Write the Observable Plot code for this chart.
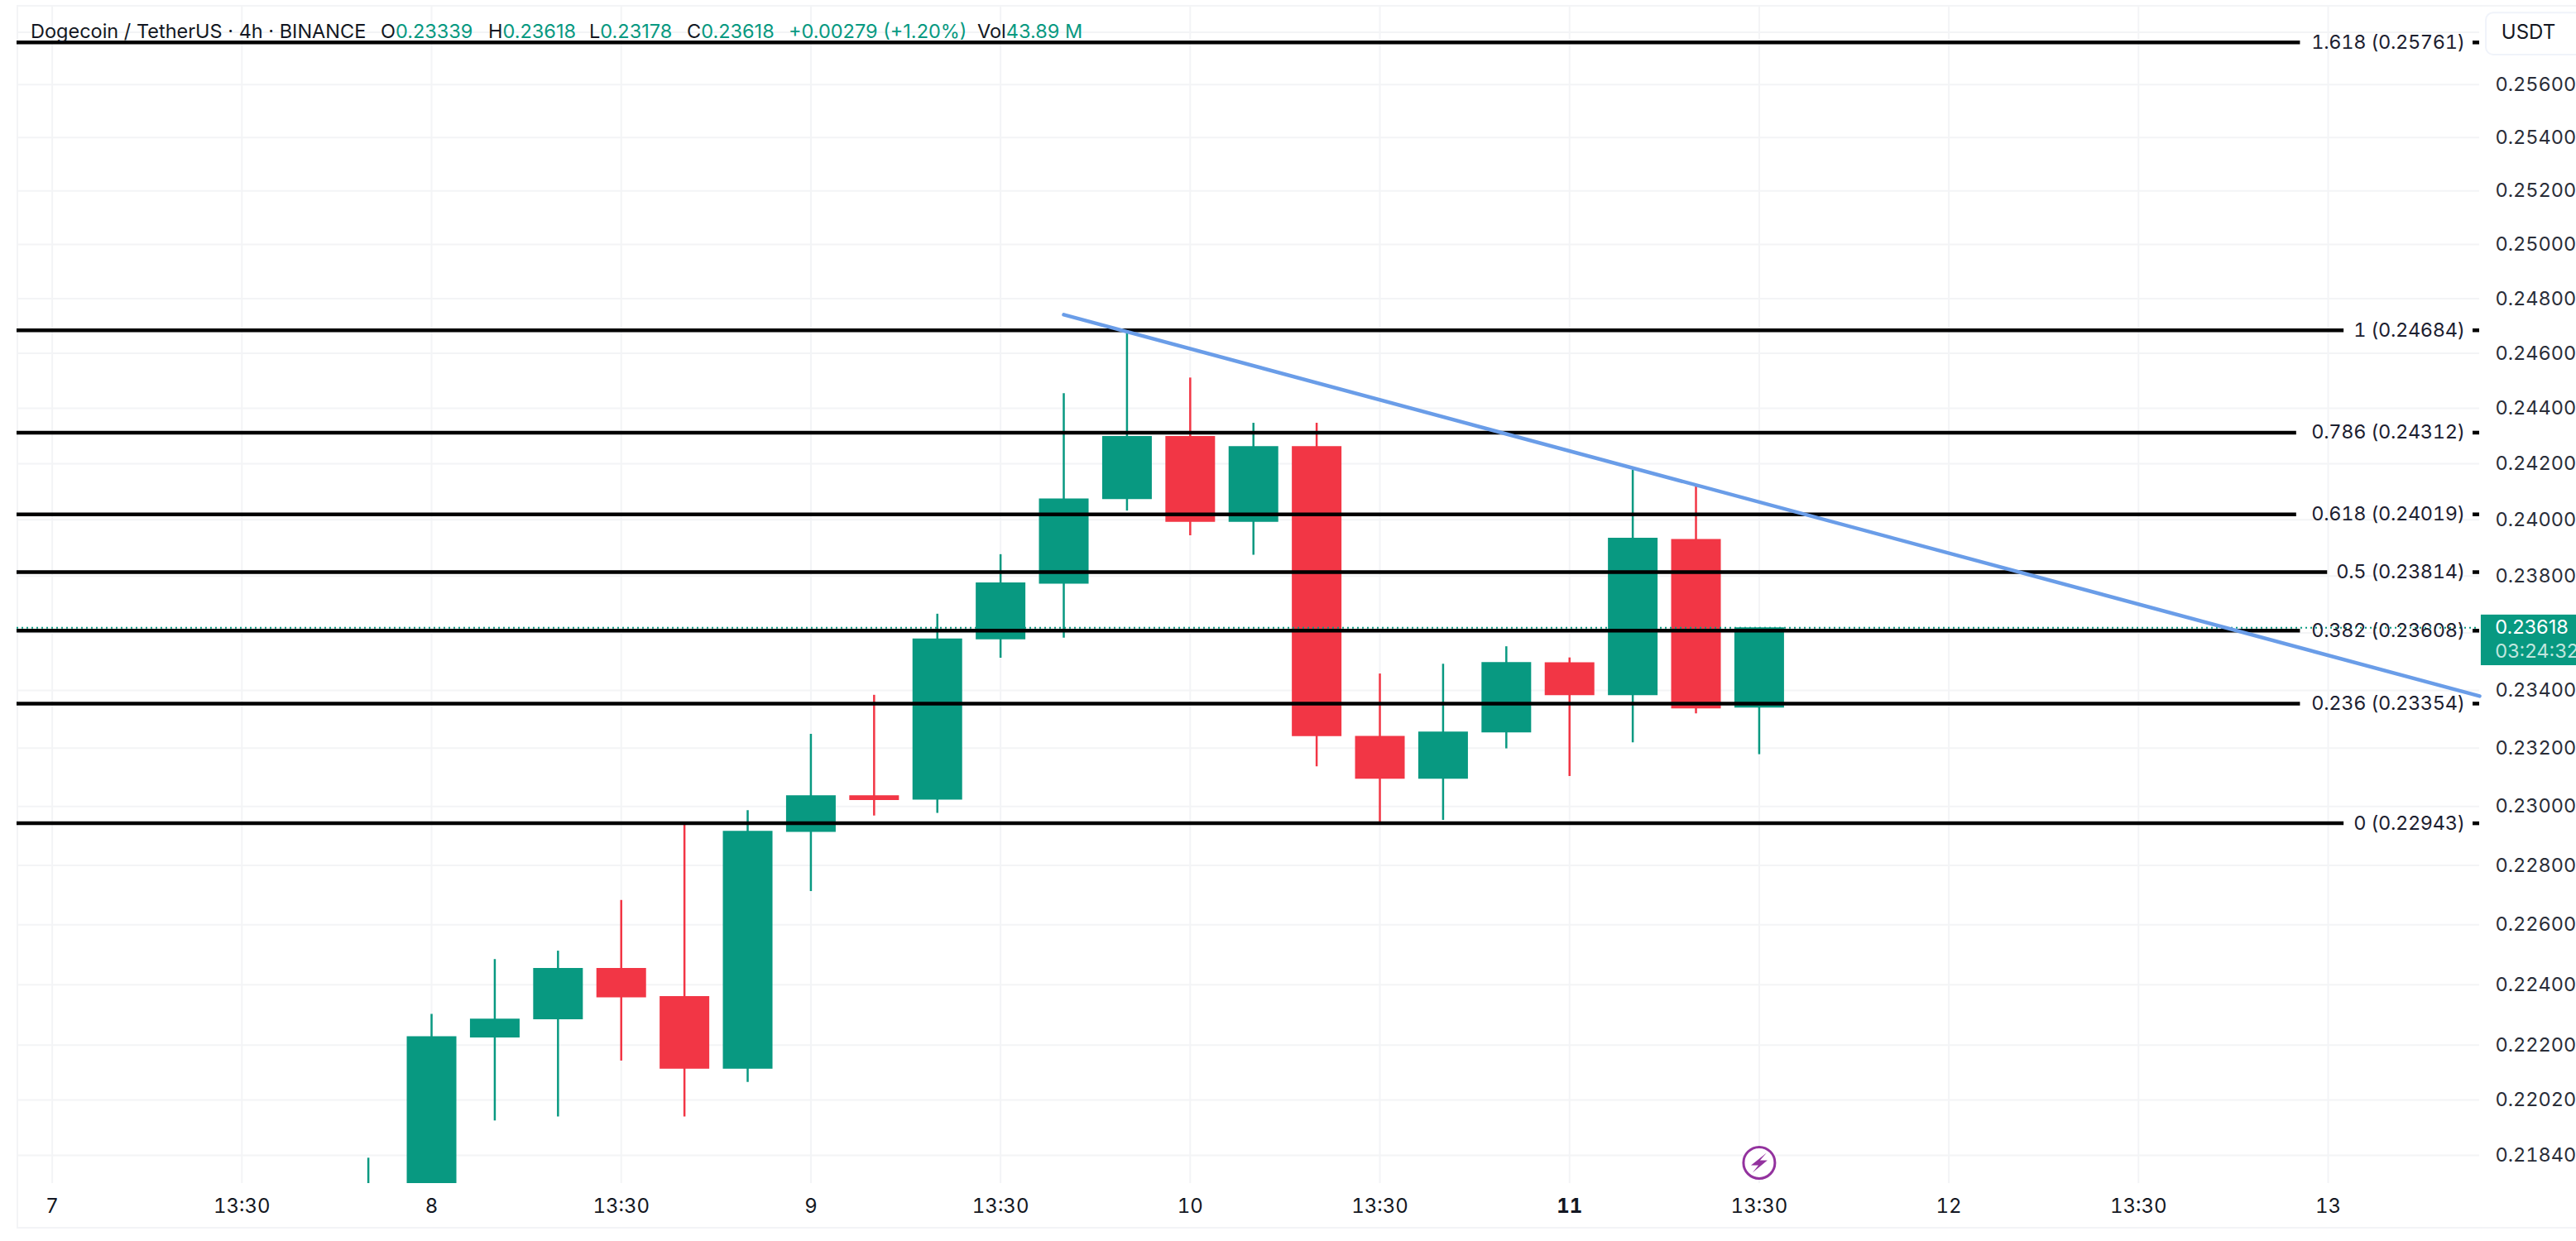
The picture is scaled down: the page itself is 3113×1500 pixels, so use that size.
<!DOCTYPE html>
<html>
<head>
<meta charset="utf-8">
<script src="https://cdn.jsdelivr.net/npm/d3@7"></script>
<script src="https://cdn.jsdelivr.net/npm/@observablehq/plot@0.6"></script>
<style>
html,body{margin:0;padding:0;background:#fff;overflow:hidden}
#wrap{position:relative;width:3113px;height:1500px;overflow:hidden}
#panel{position:absolute;left:20px;top:6px;width:3100px;height:1479px;border:2px solid #f3f4f6;box-sizing:border-box}
#head{position:absolute;left:37px;top:23px;font:23.5px/30px Inter,sans-serif;color:#131722;white-space:nowrap}
#head span{position:absolute;top:0}
#head i{font-style:normal;color:#089981}
#chart{position:absolute;left:0;top:0}
svg{display:block}
</style>
</head>
<body>
<div id="wrap"><div id="panel"></div><div id="chart"></div><div id="head"></div></div>
<script>
const GREEN = "#089981", RED = "#f23645", GRID = "#f3f4f6", INK = "#131722";

// Candles (bar index 0 = day 8)
const bars  = [-1,0,1,2,3,4,5,6,7,8,9,10,11,12,13,14,15,16,17,18,19,20,21];
const opens = [.2165,.2172,.22224,.22284,.22454,.22361,.22121,.22912,.23037,.23022,.23576,.23772,.24072,.24298,.23991,.24262,.23241,.23094,.23253,.23496,.23382,.2393,.23339];
const closes= [.2172,.22228,.22286,.22454,.22357,.22121,.22916,.23037,.23021,.23579,.23776,.24074,.24298,.23991,.24262,.2324,.23094,.23256,.23497,.23382,.23934,.23336,.23618];
const highs = [.21831,.22302,.22484,.22512,.22682,.22943,.22986,.23248,.23383,.23666,.23876,.24453,.24684,.2451,.24346,.24346,.23457,.23491,.23552,.23513,.24177,.24121,.23618];
const lows  = [.2160,.2160,.21952,.21965,.22148,.21965,.22078,.22712,.22968,.22977,.23512,.23582,.24031,.23943,.23874,.23136,.22943,.22953,.23198,.23103,.23219,.23319,.23178];
const candles = bars.map((b,i)=>({b,open:opens[i],close:closes[i],high:highs[i],low:lows[i],color:closes[i]>=opens[i]?GREEN:RED}));

// Fibonacci retracement
const fibRatios = ["1.618","1","0.786","0.618","0.5","0.382","0.236","0"];
const fibPrices = [.25761,.24684,.24312,.24019,.23814,.23608,.23354,.22943];
const fibEnds   = [29.56,30.25,29.5,29.5,29.99,29.56,29.56,30.25];
const fibs = fibRatios.map((r,i)=>({label:`${r} (${fibPrices[i].toFixed(5)})`,price:fibPrices[i],end:fibEnds[i]}));

// Axes
const priceTicks = [.256,.254,.252,.25,.248,.246,.244,.242,.24,.238,.234,.232,.23,.228,.226,.224,.222,.2202,.2184];
const priceGrid  = [.258,.236,...priceTicks];
const timeTicks  = [-6,-3,0,3,6,9,12,15,18,21,24,27,30];
const timeLabels = ["7","13:30","8","13:30","9","13:30","10","13:30","11","13:30","12","13:30","13"];
const boldTick = 18;

// Trend line, price line and other annotations
const trendBars = [10,32.395], trendPrices = [.24741,.2338];
const lastPrice = .23618, timerPrice = .23535, timerText = "03:24:32";
const badgeX = [32.42,34], badgeY = [.23486,.23663];
const unitX = [32.5,35], unitY = [.25713,.25874], unitLabelX = 32.74, unitLabelY = .2580;
const flashBar = 21, flashPrice = .21816;
const xDomain = [-6.558,32.395], yDomain = [.21749,.25903];
const tickBar = 32.29, labelBar = 32.16, axisTextBar = 32.64;

const bolt = {draw(c,size){const s=Math.sqrt(size)/34;
  c.moveTo(9*s,-12*s);c.lineTo(-10*s,3*s);c.lineTo(-1*s,3*s);c.lineTo(-8*s,12*s);c.lineTo(10*s,-3*s);c.lineTo(1*s,-3*s);c.closePath();}};

const FS = 24, TS = 23.5;
const plot = Plot.plot({
  width:3113,height:1500,marginLeft:20,marginRight:117,marginTop:6,marginBottom:70,
  x:{type:"linear",domain:xDomain,axis:null},
  y:{type:"log",domain:yDomain,axis:null},
  style:{fontFamily:"Inter, sans-serif",fontSize:FS+"px",color:INK,background:"transparent",overflow:"hidden"},
  marks:[
    Plot.ruleY(priceGrid,{stroke:GRID,strokeWidth:2,x1:xDomain[0],x2:xDomain[1]}),
    Plot.ruleX(timeTicks,{stroke:GRID,strokeWidth:2}),
    Plot.axisY({anchor:"right",ticks:priceTicks,tickFormat:d3.format(".5f"),tickSize:0,tickPadding:19,fontSize:TS,label:null,color:"#2a2e39"}),
    Plot.axisX({anchor:"bottom",ticks:timeTicks.filter(t=>t!==boldTick),tickFormat:t=>timeLabels[timeTicks.indexOf(t)],tickSize:0,tickPadding:18,fontSize:FS,label:null}),
    Plot.axisX({anchor:"bottom",ticks:[boldTick],tickFormat:t=>timeLabels[timeTicks.indexOf(t)],tickSize:0,tickPadding:18,fontSize:FS,fontWeight:700,label:null}),
    Plot.ruleX(candles,{x:"b",y1:"low",y2:"high",stroke:"color",strokeWidth:2.5,clip:true}),
    Plot.ruleX(candles,{x:"b",y1:"open",y2:"close",stroke:"color",strokeWidth:60,clip:true}),
    Plot.ruleY([lastPrice],{x1:xDomain[0],x2:xDomain[1],stroke:GREEN,strokeWidth:2,strokeDasharray:"2 4"}),
    Plot.ruleY(fibs,{y:"price",x1:xDomain[0],x2:"end",stroke:"#000",strokeWidth:4.5}),
    Plot.ruleY(fibs,{y:"price",x1:tickBar,x2:xDomain[1],stroke:"#000",strokeWidth:4.5}),
    Plot.text(fibs,{x:labelBar,y:"price",text:"label",textAnchor:"end",fontSize:23.5,fill:"#1c2030",fontVariant:"tabular-nums",render:(i,s,v,d,c,n)=>{const g=n(i,s,v,d,c);g.style.letterSpacing="-0.3px";return g;}}),
    Plot.line(trendBars.map((b,i)=>({b,p:trendPrices[i]})),{x:"b",y:"p",stroke:"#6a9de8",strokeWidth:4.5,strokeLinecap:"round"}),
    Plot.dot([{b:flashBar,p:flashPrice}],{x:"b",y:"p",r:19,fill:"#fff",stroke:"#93329e",strokeWidth:3}),
    Plot.dot([{b:flashBar,p:flashPrice}],{x:"b",y:"p",r:19,symbol:bolt,fill:"#93329e",stroke:"none"}),
    Plot.rect([0],{x1:badgeX[0],x2:badgeX[1],y1:badgeY[0],y2:badgeY[1],fill:GREEN}),
    Plot.text([String(lastPrice.toFixed(5))],{x:axisTextBar,y:lastPrice,text:d=>d,textAnchor:"start",fill:"#fff",fontSize:TS}),
    Plot.text([timerText],{x:axisTextBar,y:timerPrice,text:d=>d,textAnchor:"start",fill:"#bfe6de",fontSize:TS}),
    Plot.rect([0],{x1:unitX[0],x2:unitX[1],y1:unitY[0],y2:unitY[1],fill:"#fff",stroke:"#f0f3fa",strokeWidth:2,rx:9}),
    Plot.text(["USDT"],{x:unitLabelX,y:unitLabelY,text:d=>d,textAnchor:"start",fill:INK,fontSize:FS})
  ]
});
document.getElementById("chart").append(plot);

// Header legend
const legend = [
  [0,"Dogecoin / TetherUS · 4h · BINANCE"],
  [423,"O<i>0.23339</i>"],[553,"H<i>0.23618</i>"],[675,"L<i>0.23178</i>"],[793,"C<i>0.23618</i>"],
  [916,"<i>+0.00279 (+1.20%)</i>"],[1144,"Vol<i>43.89 M</i>"]
];
document.getElementById("head").innerHTML = legend.map(([x,t])=>`<span style="left:${x}px">${t}</span>`).join("");
</script>
</body>
</html>
